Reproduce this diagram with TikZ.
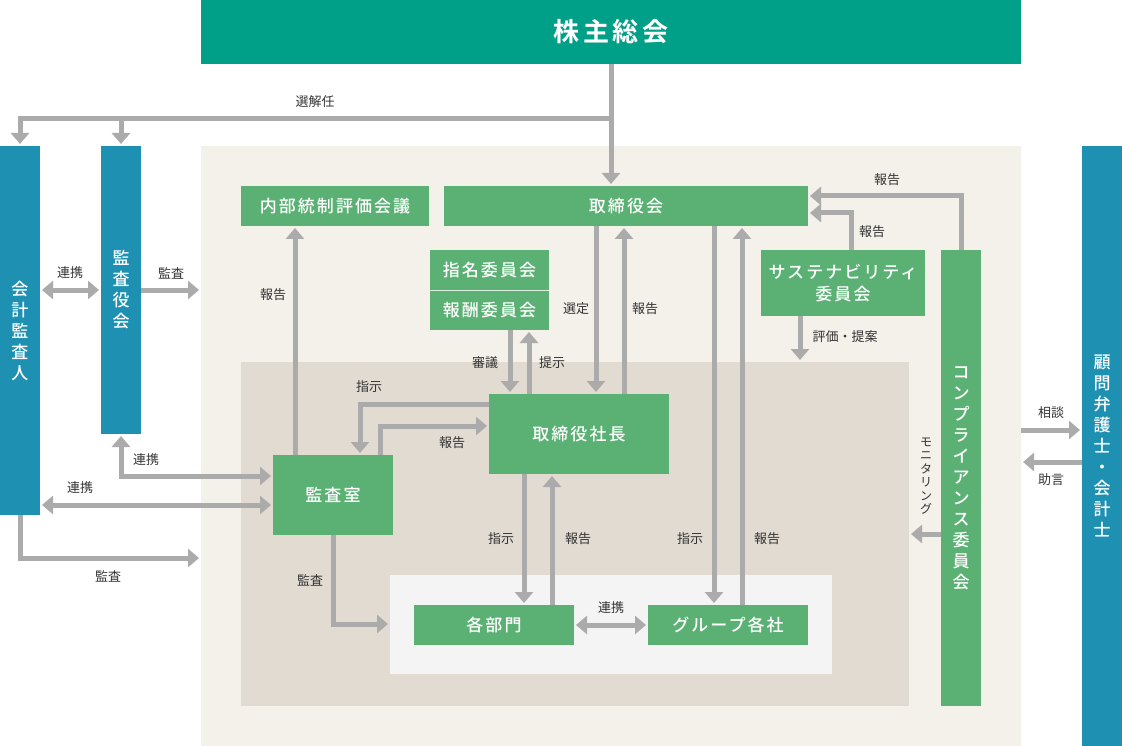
\documentclass[tikz,border=0pt]{standalone}
\usepackage{fontspec}
\setmainfont{Noto Sans CJK JP}
\newfontfamily\boxfont[LetterSpace=12]{Noto Sans CJK JP Medium}
\newfontfamily\agmfont[LetterSpace=14]{Noto Sans CJK JP Bold}
\usepackage{xcolor}
\usepackage{tikz}
\usetikzlibrary{arrows.meta, positioning}

\definecolor{agmgreen}{HTML}{009F87}
\definecolor{orgblue}{HTML}{1E90B2}
\definecolor{orggreen}{HTML}{5BB174}
\definecolor{bgouter}{HTML}{F4F0EA}
\definecolor{bginner}{HTML}{E1DBD1}
\definecolor{bglight}{HTML}{F4F4F4}
\definecolor{arrgray}{HTML}{ABABAB}
\definecolor{txtgray}{HTML}{333333}

\begin{document}
\begin{tikzpicture}[x=1pt, y=-1pt,
    box/.style={fill=orggreen, text=white, inner sep=0pt, outer sep=0pt,
        font=\boxfont\fontsize{17}{22}\selectfont, align=center},
    vbox/.style={box, font=\boxfont\fontsize{17}{21}\selectfont},
    bluebox/.style={vbox, fill=orgblue},
    arr/.style={draw=arrgray, line width=5pt, shorten >=2pt,
        -{Triangle[width=18pt, length=11pt]}},
    dbl/.style={arr, shorten <=2pt,
        {Triangle[width=18pt, length=11pt]}-{Triangle[width=18pt, length=11pt]}},
    lbl/.style={text=txtgray, font=\fontsize{13}{15}\selectfont, inner sep=1pt}]

    \useasboundingbox (0,0) rectangle (1122,746);

    % =================================================================
    % 1. 背景の領域
    % =================================================================
    \coordinate (outL) at (201,146);
    \coordinate (outR) at (1021,746);
    \coordinate (inTL) at (241,362);
    \coordinate (inBR) at (909,706);
    \coordinate (ltTL) at (390,575);
    \coordinate (ltBR) at (832,674);

    \fill[bgouter] (outL) rectangle (outR);
    \fill[bginner] (inTL) rectangle (inBR);
    \fill[bglight] (ltTL) rectangle (ltBR);

    % =================================================================
    % 2. 各機関のボックス
    % =================================================================
    \node[box, fill=agmgreen, minimum width=820pt, minimum height=64pt,
        font=\agmfont\fontsize{26}{30}\selectfont] (agm) at (611,32) {株主総会};

    \node[bluebox, minimum width=40pt, minimum height=369pt] (auditor) at (20,330.5)
        {会\\計\\監\\査\\人};
    \node[bluebox, minimum width=40pt, minimum height=288pt] (kansa) at (121,290)
        {監\\査\\役\\会};
    \node[bluebox, minimum width=40pt, minimum height=600pt] (advisor) at (1102,446)
        {顧\\問\\弁\\護\\士\\・\\会\\計\\士};

    \node[box, minimum width=188pt, minimum height=40pt] (icfr) at (335,206) {内部統制評価会議};
    \node[box, minimum width=364pt, minimum height=40pt] (board) at (626,206) {取締役会};
    \node[box, minimum width=119pt, minimum height=40pt] (nomcom) at (489.5,270) {指名委員会};
    \node[box, minimum width=119pt, minimum height=39pt] (remcom) at (489.5,310.5) {報酬委員会};
    \draw[white!80!orggreen, line width=1pt] (nomcom.south west) -- (nomcom.south east);
    \node[box, minimum width=164pt, minimum height=66pt] (sus) at (843,283)
        {サステナビリティ\\委員会};
    \node[vbox, minimum width=40pt, minimum height=456pt] (comp) at (961,478)
        {コ\\ン\\プ\\ラ\\イ\\ア\\ン\\ス\\委\\員\\会};
    \node[box, minimum width=180pt, minimum height=80pt] (pres) at (579,434) {取締役社長};
    \node[box, minimum width=120pt, minimum height=80pt] (audit) at (333,495) {監査室};
    \node[box, minimum width=160pt, minimum height=40pt] (dept) at (494,625) {各部門};
    \node[box, minimum width=160pt, minimum height=40pt] (group) at (728,625) {グループ各社};

    % =================================================================
    % 3. 矢印
    % =================================================================
    % 選解任
    \coordinate (sel) at (611,119);
    \draw[arr] (agm.south) -- (board.north -| agm.south);
    \draw[arr] (sel) -| (auditor.north);
    \draw[arr] (sel -| kansa.north) -- (kansa.north);

    % 会計監査人・監査役会
    \draw[dbl] (auditor.east |- kansa) -- (kansa.west);
    \draw[arr] (kansa.east) -- (outL |- kansa);
    \draw[dbl] (kansa.south) |- (audit.west |- 0,476);
    \draw[dbl] (auditor.east |- 0,505) -- (audit.west |- 0,505);
    \draw[arr] (auditor.south) |- (outL |- 0,558);

    % 監査室
    \draw[arr] (audit.north -| 295,0) -- (icfr.south -| 295,0);
    \draw[arr] (pres.west |- 0,404) -| (audit.north -| 360,0);
    \draw[arr] (audit.north -| 380,0) |- (pres.west |- 0,426);
    \draw[arr] (audit.south) |- (ltTL |- 0,624);

    % 取締役会・取締役社長
    \draw[arr] (board.south -| 596,0) -- (pres.north -| 596,0);
    \draw[arr] (pres.north -| 624,0) -- (board.south -| 624,0);
    \draw[arr] (remcom.south -| 510,0) -- (pres.north -| 510,0);
    \draw[arr] (pres.north -| 529,0) -- (remcom.south -| 529,0);
    \draw[arr] (board.south -| 714,0) -- (group.north -| 714,0);
    \draw[arr] (group.north -| 742,0) -- (board.south -| 742,0);

    % 社長・各部門・グループ各社
    \draw[arr] (pres.south -| 524,0) -- (dept.north -| 524,0);
    \draw[arr] (dept.north -| 552,0) -- (pres.south -| 552,0);
    \draw[dbl] (dept.east) -- (group.west);

    % サステナビリティ・コンプライアンス
    \draw[arr] (sus.south -| 800,0) -- (inTL -| 800,0);
    \draw[arr] (sus.north -| 851,0) |- (board.east |- 0,213);
    \draw[arr] (comp.north) |- (board.east |- 0,196);
    \draw[arr] (comp.west |- 0,534) -- (inBR |- 0,534);

    % 顧問弁護士・会計士
    \draw[arr] (outR |- 0,430) -- (advisor.west |- 0,430);
    \draw[arr] (advisor.west |- 0,462) -- (outR |- 0,462);

    % =================================================================
    % 4. ラベル
    % =================================================================
    \node[lbl] (tSel) at (315,102) {選解任};
    \node[lbl] (tRenA) at (70,273) {連携};
    \node[lbl] (tKanA) at (171,273) {監査};
    \node[lbl] (tRepI) at (273,295) {報告};
    \node[lbl] (tSen) at (576,309) {選定};
    \node[lbl] (tRepB) at (645,309) {報告};
    \node[lbl] (tShin) at (485,363) {審議};
    \node[lbl] (tTei) at (552,363) {提示};
    \node[lbl] (tHyo) at (845,337) {評価・提案};
    \node[lbl] (tRepC) at (887,180) {報告};
    \node[lbl] (tRepS) at (872,232) {報告};
    \node[lbl] (tShiA) at (369,387) {指示};
    \node[lbl] (tRepA) at (452,443) {報告};
    \node[lbl] (tRenB) at (146,460) {連携};
    \node[lbl] (tRenC) at (80,488) {連携};
    \node[lbl] (tKanB) at (108,576) {監査};
    \node[lbl] (tKanC) at (310,580) {監査};
    \node[lbl] (tShiB) at (501,539) {指示};
    \node[lbl] (tRepD) at (578,539) {報告};
    \node[lbl] (tShiC) at (690,539) {指示};
    \node[lbl] (tRepG) at (767,539) {報告};
    \node[lbl] (tRenD) at (611,608) {連携};
    \node[lbl] (tSou) at (1051,413) {相談};
    \node[lbl] (tJo) at (1051,480) {助言};
    \node[lbl, align=center, font=\fontsize{12}{13.5}\selectfont] (tMon) at (926,476)
        {モ\\ニ\\タ\\リ\\ン\\グ};

\end{tikzpicture}
\end{document}
